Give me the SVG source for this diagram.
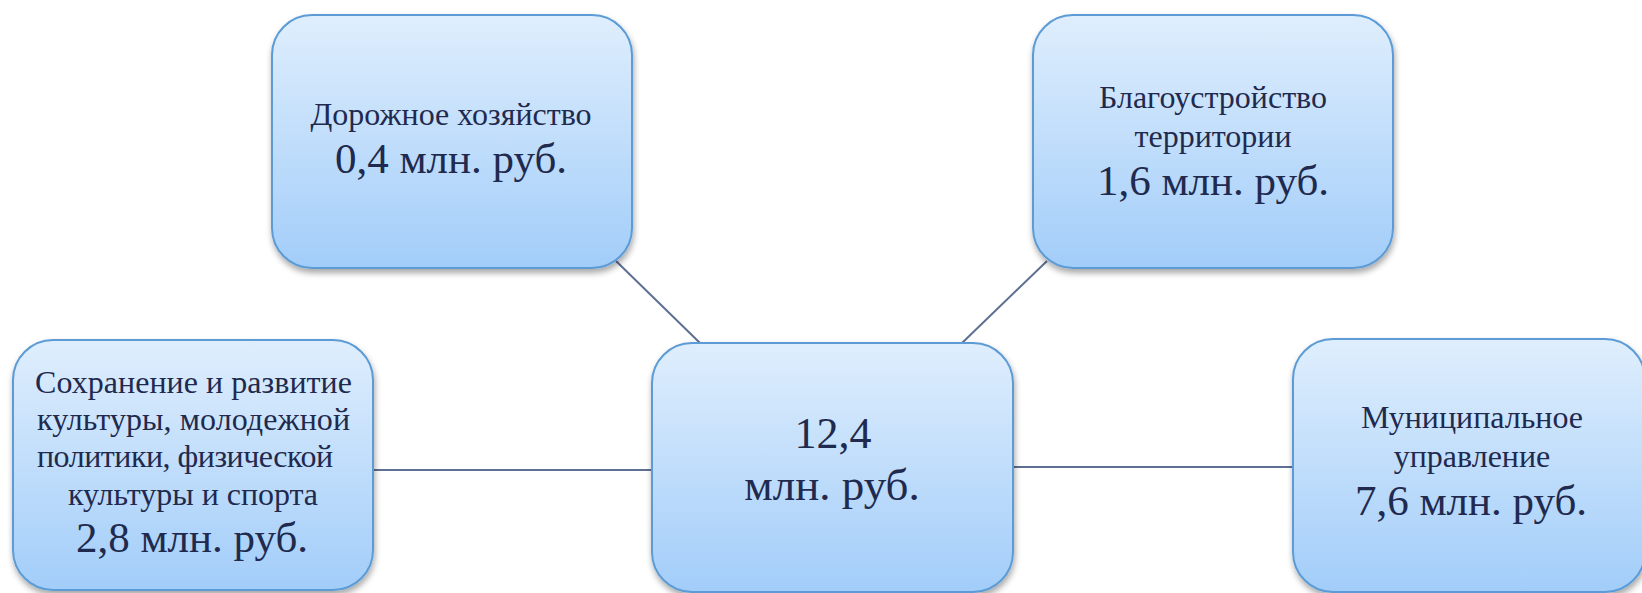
<svg xmlns="http://www.w3.org/2000/svg" width="1642" height="593" viewBox="0 0 1642 593">
<style>
.box{fill:url(#g);stroke:#5b9bd5;stroke-width:2;filter:url(#sh)}
.t{font-family:"Liberation Serif","Times New Roman",serif;fill:#1f2a4e;text-anchor:middle}
.s{font-size:32px}
.b{font-size:43px}
.c{stroke:#5e6f93;stroke-width:2;fill:none}
</style>
<defs>
<linearGradient id="g" x1="0" y1="0" x2="0" y2="1">
<stop offset="0" stop-color="#dfeefd"/>
<stop offset="1" stop-color="#a2cdf9"/>
</linearGradient>
<filter id="sh" x="-10%" y="-10%" width="125%" height="130%">
<feDropShadow dx="1" dy="4" stdDeviation="3" flood-color="#000" flood-opacity="0.35"/>
</filter>
</defs>
<rect width="1642" height="593" fill="#fff"/>
<g id="connectors">
<line class="c" x1="616" y1="261" x2="700" y2="343"/>
<line class="c" x1="1047" y1="261" x2="962" y2="343"/>
<line class="c" x1="373" y1="470" x2="652" y2="470"/>
<line class="c" x1="1013" y1="467" x2="1293" y2="467"/>
</g>
<g id="node-road">
<rect class="box" x="272" y="15" width="360" height="253" rx="40"/>
<text class="t s" x="451" y="125">Дорожное хозяйство</text>
<text class="t b" x="451" y="173">0,4 млн. руб.</text>
</g>
<g id="node-improvement">
<rect class="box" x="1033" y="15" width="360" height="253" rx="40"/>
<text class="t s" x="1213" y="108">Благоустройство</text>
<text class="t s" x="1213" y="147">территории</text>
<text class="t b" x="1213" y="195">1,6 млн. руб.</text>
</g>
<g id="node-culture">
<rect class="box" x="13" y="340" width="360" height="250" rx="40"/>
<text class="t s" x="193.5" y="393" textLength="317" lengthAdjust="spacing">Сохранение и развитие</text>
<text class="t s" x="193.5" y="430" textLength="313" lengthAdjust="spacing">культуры, молодежной</text>
<text class="t s" x="185" y="467" textLength="296" lengthAdjust="spacing">политики, физической</text>
<text class="t s" x="193" y="505" textLength="250" lengthAdjust="spacing">культуры и спорта</text>
<text class="t b" x="192" y="552">2,8 млн. руб.</text>
</g>
<g id="node-total">
<rect class="box" x="652" y="343" width="361" height="249" rx="40"/>
<text class="t" style="font-size:44px" x="833" y="448">12,4</text>
<text class="t" style="font-size:45px" x="832" y="500">млн. руб.</text>
</g>
<g id="node-municipal">
<rect class="box" x="1293" y="339" width="352" height="253" rx="40"/>
<text class="t s" x="1472" y="428">Муниципальное</text>
<text class="t s" x="1472" y="467">управление</text>
<text class="t b" x="1471" y="515">7,6 млн. руб.</text>
</g>
</svg>
